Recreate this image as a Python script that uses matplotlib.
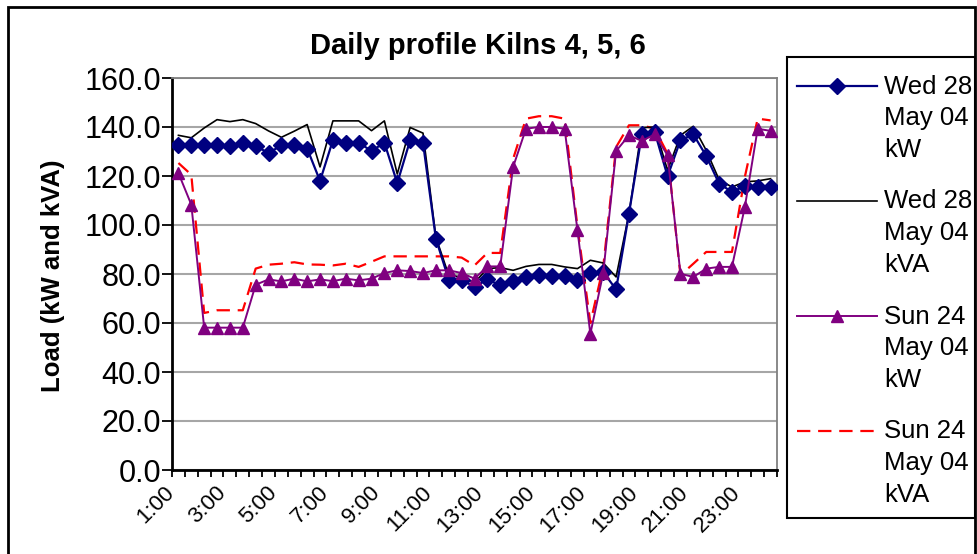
import matplotlib.pyplot as plt
import matplotlib.patches as mpatches
from matplotlib.lines import Line2D
import numpy as np

plt.rcParams['font.family'] = ['Liberation Sans', 'DejaVu Sans']

# half-hour readings, 1:00 .. 24:00
times = ["1:00", "1:30", "2:00", "2:30", "3:00", "3:30", "4:00", "4:30",
         "5:00", "5:30", "6:00", "6:30", "7:00", "7:30", "8:00", "8:30",
         "9:00", "9:30", "10:00", "10:30", "11:00", "11:30", "12:00", "12:30",
         "13:00", "13:30", "14:00", "14:30", "15:00", "15:30", "16:00", "16:30",
         "17:00", "17:30", "18:00", "18:30", "19:00", "19:30", "20:00", "20:30",
         "21:00", "21:30", "22:00", "22:30", "23:00", "23:30", "24:00"]
tick_labels = ["1:00", "3:00", "5:00", "7:00", "9:00", "11:00",
               "13:00", "15:00", "17:00", "19:00", "21:00", "23:00"]

wed_kw = [132.5, 132.5, 132.5, 132.5, 132.1, 133.6, 132.2, 129.4, 132.5, 132.5, 131.2, 118.0,
          134.6, 133.6, 133.6, 130.2, 133.6, 117.1, 134.6, 133.6, 94.4, 77.7, 77.7, 74.7,
          77.8, 75.4, 77.1, 78.8, 79.7, 79.0, 79.0, 77.4, 80.4, 80.8, 73.7, 104.6,
          137.0, 138.0, 119.9, 134.6, 137.0, 128.2, 116.9, 113.5, 115.9, 115.5, 115.5]
wed_kva = [136.6, 135.6, 139.6, 143.0, 142.2, 143.0, 141.4, 138.4, 135.8, 138.3, 141.0, 123.7,
           142.5, 142.5, 142.5, 138.5, 142.5, 120.8, 139.8, 137.5, 95.0, 79.5, 78.8, 76.5,
           82.2, 82.6, 81.5, 83.1, 83.9, 83.9, 82.9, 82.2, 85.6, 84.5, 78.8, 104.6,
           139.7, 140.0, 122.3, 136.6, 140.3, 130.5, 118.5, 115.5, 117.6, 118.0, 118.9]
sun_kw = [121.2, 108.3, 58.1, 58.1, 58.1, 58.1, 75.6, 77.8, 77.0, 78.1, 77.0, 77.8,
          77.1, 78.1, 77.4, 78.1, 80.4, 81.5, 81.2, 80.4, 81.5, 81.5, 80.4, 78.1,
          83.1, 83.1, 123.7, 139.3, 140.0, 140.0, 139.3, 97.8, 55.6, 80.4, 130.2, 136.6,
          134.3, 137.0, 128.4, 80.1, 78.8, 82.2, 82.9, 82.9, 107.3, 139.3, 138.4]
sun_kva = [125.3, 120.5, 64.1, 65.2, 65.2, 65.2, 82.2, 83.8, 84.2, 84.8, 83.9, 83.8,
           83.5, 84.2, 82.9, 85.0, 87.2, 87.2, 87.2, 87.2, 87.2, 87.2, 86.7, 83.5,
           88.6, 88.6, 127.0, 143.4, 144.4, 144.4, 143.4, 99.2, 60.0, 82.9, 131.8, 140.7,
           140.7, 139.3, 129.1, 79.5, 84.2, 89.0, 89.0, 89.0, 119.6, 143.4, 142.7]

series_labels = ["Wed 28\nMay 04\nkW", "Wed 28\nMay 04\nkVA",
                 "Sun 24\nMay 04\nkW", "Sun 24\nMay 04\nkVA"]

W, H = 977, 554


def fx(px):
    return px / W


def fy(py):
    return 1 - py / H


x = np.arange(len(times))

fig = plt.figure(figsize=(W / 100, H / 100), dpi=100)
ax = fig.add_axes([fx(172), fy(470), 605 / W, 392 / H])

styles = [
    dict(color="#000080", lw=1.6, marker="D", ms=8.5, zorder=4),
    dict(color="black", lw=1.2, zorder=3),
    dict(color="#800080", lw=1.4, marker="^", ms=8, zorder=5),
    dict(color="#ff0000", lw=1.6, ls=(0, (6, 3.5)), zorder=2),
]
for vals, st in zip([wed_kw, wed_kva, sun_kw, sun_kva], styles):
    ax.plot(x, vals, **st)

ax.set_xlim(-0.5, len(times) - 0.5)
ax.set_ylim(0, 160)
ax.set_yticks(np.arange(0, 161, 20))
ax.set_yticklabels([f"{v:.1f}" for v in np.arange(0, 161, 20)], fontsize=22)
ax.yaxis.grid(True, color="#a6a6a6", lw=1.5)
ax.set_axisbelow(True)

ax.set_xticks([times.index(t) for t in tick_labels])
ax.set_xticklabels(tick_labels, rotation=45, ha="right", va="top", fontsize=16)
ax.set_xticks(np.arange(-0.5, len(times), 1), minor=True)
ax.tick_params(axis="x", which="major", length=0, pad=9)
ax.tick_params(axis="x", which="minor", length=5, width=1.3)
ax.tick_params(axis="y", length=7, width=1.3, pad=1)

for s in ["top", "right"]:
    ax.spines[s].set_color("#808080")
    ax.spines[s].set_linewidth(1.3)
for s in ["left", "bottom"]:
    ax.spines[s].set_color("black")
    ax.spines[s].set_linewidth(2)

fig.text(fx(478), fy(46), "Daily profile Kilns 4, 5, 6",
         ha="center", va="center", fontsize=21, fontweight="bold")
fig.text(fx(53), fy(276), "Load (kW and kVA)", rotation=90,
         ha="center", va="center", fontsize=18.5, fontweight="bold")

# legend box drawn by hand (Excel style: handle beside the first text line)
fig.patches.append(mpatches.Rectangle((fx(787), fy(518)), fx(975) - fx(787), fy(57) - fy(518),
                                      transform=fig.transFigure, fill=False,
                                      edgecolor="black", lw=1.5))
for k, (lab, st) in enumerate(zip(series_labels, styles)):
    yh = 86 + 115 * k
    st = {key: v for key, v in st.items() if key != "zorder"}
    fig.add_artist(Line2D([fx(797), fx(877)], [fy(yh), fy(yh)], transform=fig.transFigure,
                          markevery=[], **st))
    if "marker" in st:
        fig.add_artist(Line2D([fx(837)], [fy(yh)], transform=fig.transFigure,
                              marker=st["marker"], ms=st["ms"], color=st["color"], ls="none"))
    for j, line in enumerate(lab.split("\n")):
        fig.text(fx(884), fy(93.5 + 31.7 * j + 115 * k), line,
                 ha="left", va="baseline", fontsize=18.5)

fig.patches.append(mpatches.Rectangle((fx(8), -0.05), fx(975) - fx(8), fy(7) + 0.05,
                                      transform=fig.transFigure, fill=False,
                                      edgecolor="black", lw=2))

fig.savefig("out.png", dpi=100)
